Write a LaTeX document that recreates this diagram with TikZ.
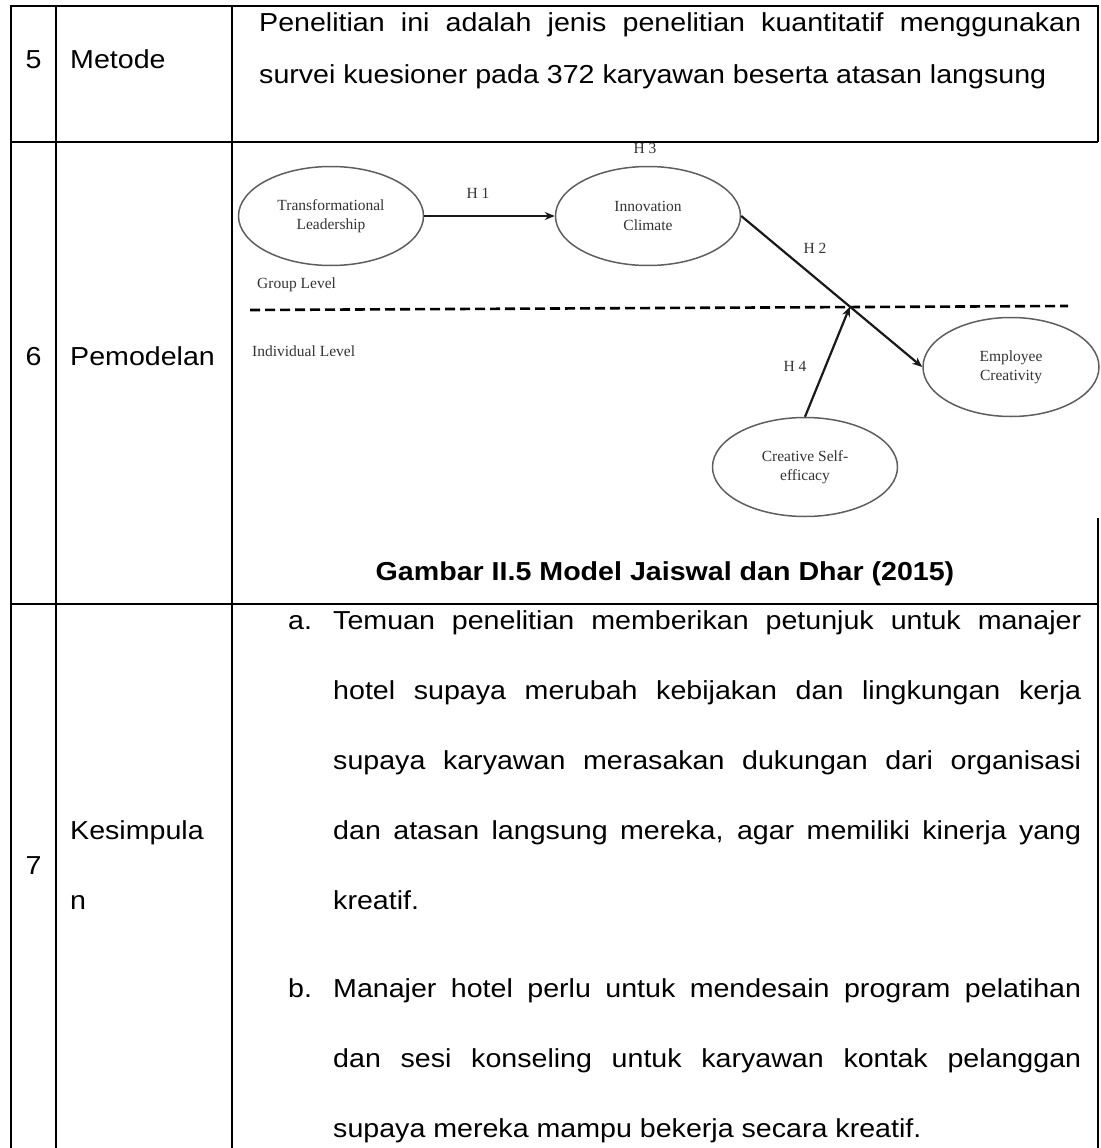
\documentclass[tikz,border=0pt]{standalone}
\usepackage{fontspec}
\setmainfont{Liberation Sans}[FakeStretch=1.1]
\newfontfamily\figfont{Liberation Serif}
\usetikzlibrary{arrows.meta,calc,shapes.geometric}
\definecolor{FigInk}{HTML}{333333}
\definecolor{FigEdge}{HTML}{5E5E5E}

\begin{document}
\begin{tikzpicture}[x=1pt,y=-1pt,
    rule/.style={line width=2.5pt,draw=black},
    cell/.style={inner sep=0pt,anchor=base west,font=\fontsize{26}{31}\selectfont},
    num/.style={inner sep=0pt,anchor=base,font=\fontsize{26}{31}\selectfont},
    latent/.style={ellipse,draw=FigEdge,line width=1.5pt,inner sep=0pt,
      minimum width=185pt,minimum height=99pt,align=center,text=FigInk,
      font=\figfont\fontsize{15.5}{19}\selectfont},
    hyp/.style={inner sep=0pt,anchor=base,text=FigInk,font=\figfont\fontsize{15.5}{19}\selectfont},
    level/.style={inner sep=0pt,anchor=base west,text=FigInk,font=\figfont\fontsize{15.5}{19}\selectfont},
    effect/.style={-{Stealth[length=10pt,width=8pt]},line width=2.2pt,draw=black!90}
  ]
  \useasboundingbox (0,0) rectangle (1100,1148);

  % table rules
  \draw[rule] (11,6) -- (1098,6);
  \draw[rule] (11,142) -- (1098,142);
  \draw[rule] (11,604) -- (1098,604);
  \draw[rule] (11,4.75) -- (11,1148);
  \draw[rule] (56,4.75) -- (56,1148);
  \draw[rule] (232,4.75) -- (232,1148);
  \draw[rule] (1098,4.75) -- (1098,142);
  \draw[rule] (1098,518) -- (1098,1148);

  % row 5
  \node[num] (n5) at (33.5,68) {5};
  \node[cell] (metode) at (70,68) {Metode};
  \node[cell] (m1) at (259,32)
    {\makebox[822pt][s]{Penelitian ini adalah jenis penelitian kuantitatif menggunakan}};
  \node[cell] (m2) at (259,83) {survei kuesioner pada 372 karyawan beserta atasan langsung};

  % row 6: model figure
  \node[num] (n6) at (33.5,365) {6};
  \node[cell] (pemodelan) at (70,365) {Pemodelan};

  \node[latent] (tl) at (331,216) {Transformational\\Leadership};
  \node[latent] (ic) at (648,216) {Innovation\\Climate};
  \node[latent,minimum width=176pt] (ec) at (1011,367) {Employee\\Creativity};
  \node[latent] (cs) at (805,467) {Creative Self-\\efficacy};

  \coordinate (lvlL) at (250,310);
  \coordinate (lvlR) at (1068,306);
  \draw[line width=2.6pt,dash pattern=on 10pt off 5pt] (lvlL) -- (lvlR);
  \node[level] (grp) at (257,288) {Group Level};
  \node[level] (ind) at (252,356) {Individual Level};

  \draw[effect] (tl) -- (ic);
  \draw[effect] (ic.east) -- (ec.west);
  \coordinate (mod) at ($(ic.east)!0.6!(ec.west)$);
  \draw[effect] (cs.north) -- (mod);

  \node[hyp] (h1) at (478,198) {H 1};
  \node[hyp] (h2) at (815,253) {H 2};
  \node[hyp] (h3) at (645,153) {H 3};
  \node[hyp] (h4) at (795,371) {H 4};

  \node[num,font=\bfseries\fontsize{26}{31}\selectfont] (caption) at (665,580)
    {Gambar II.5 Model Jaiswal dan Dhar (2015)};

  % row 7
  \node[num] (n7) at (33.5,874) {7};
  \node[cell] (kes1) at (70,839) {Kesimpula};
  \node[cell] (kes2) at (70,909) {n};

  \node[cell] (a) at (288,629) {a.};
  \node[cell] (a1) at (333,629)
    {\makebox[748pt][s]{Temuan penelitian memberikan petunjuk untuk manajer}};
  \node[cell] (a2) at (333,699)
    {\makebox[748pt][s]{hotel supaya merubah kebijakan dan lingkungan kerja}};
  \node[cell] (a3) at (333,769)
    {\makebox[748pt][s]{supaya karyawan merasakan dukungan dari organisasi}};
  \node[cell] (a4) at (333,839)
    {\makebox[748pt][s]{dan atasan langsung mereka, agar memiliki kinerja yang}};
  \node[cell] (a5) at (333,909) {kreatif.};

  \node[cell] (b) at (288,997) {b.};
  \node[cell] (b1) at (333,997)
    {\makebox[748pt][s]{Manajer hotel perlu untuk mendesain program pelatihan}};
  \node[cell] (b2) at (333,1067)
    {\makebox[748pt][s]{dan sesi konseling untuk karyawan kontak pelanggan}};
  \node[cell] (b3) at (333,1137) {supaya mereka mampu bekerja secara kreatif.};
\end{tikzpicture}
\end{document}
